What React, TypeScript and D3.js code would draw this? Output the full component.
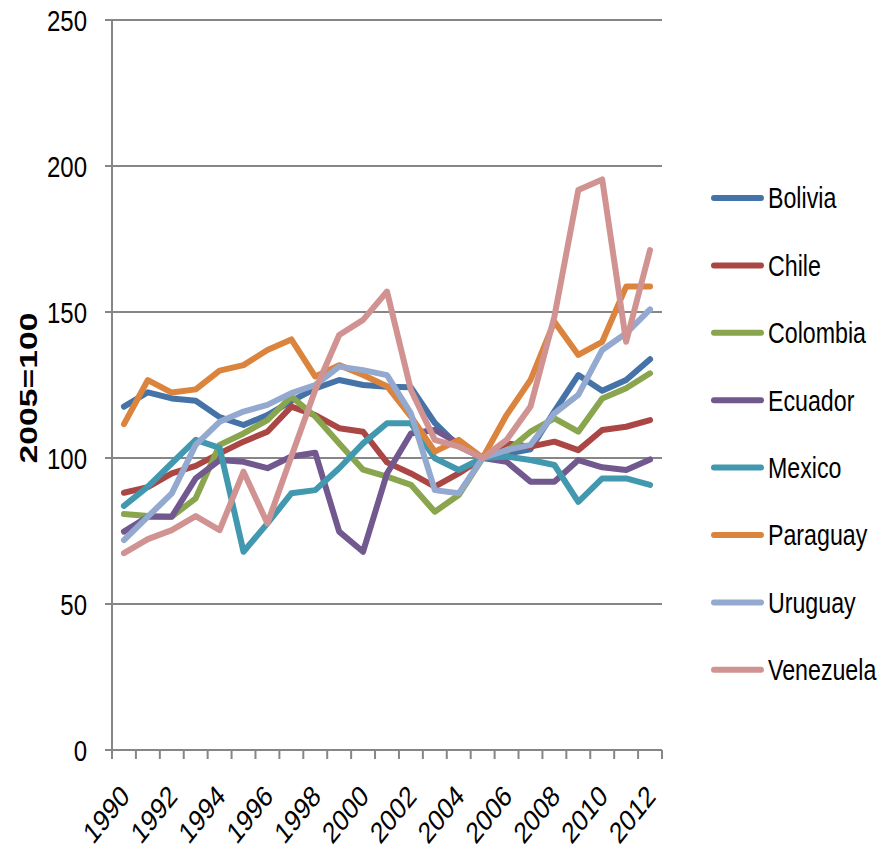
import * as d3 from "d3";

const years = d3.range(1990, 2013).map(String);
const yTicks = [0, 50, 100, 150, 200, 250];

const bolivia = [117.6, 122.5, 120.4, 119.6, 114, 111.3, 114.7, 119.5, 123.8, 126.7, 125, 124.4, 124.2, 112, 104, 100, 101.5, 103, 116, 128.4, 123, 126.7, 133.8];
const chile = [88.1, 90, 94.7, 97.3, 101.6, 105.6, 109, 117.6, 114.7, 110.2, 109, 98.5, 94.7, 90.2, 94.7, 100, 105, 103.9, 105.6, 102.7, 109.6, 110.7, 113];
const colombia = [80.8, 80.1, 79.9, 86.2, 104.5, 108.4, 113, 121, 114.2, 105, 96, 93.6, 90.8, 81.6, 87.3, 100, 102.2, 109, 113.6, 109, 120.4, 123.9, 129];
const ecuador = [74.8, 79.9, 79.9, 93, 99.3, 98.7, 96.5, 100.5, 101.8, 74.8, 67.9, 94.7, 108.4, 109.6, 105, 100, 98.7, 91.9, 91.9, 99.3, 96.8, 95.9, 99.5];
const mexico = [83.6, 90.2, 98.2, 106.2, 103.5, 67.9, 77.6, 87.9, 89, 96.5, 105, 111.9, 111.9, 99.9, 95.9, 100, 100.5, 99.3, 97.6, 85, 93, 93, 90.8];
const paraguay = [111.6, 126.7, 122.4, 123.5, 129.9, 131.8, 137, 140.6, 127.9, 131.8, 128.4, 124.6, 114.2, 102.2, 106.2, 100, 114.7, 126.7, 146.7, 135.3, 139.8, 158.7, 158.7];
const uruguay = [71.9, 79.9, 87.9, 104.5, 112.4, 115.9, 118.2, 122.2, 125, 131.3, 130.1, 128.4, 115.3, 89, 87.9, 100, 102.7, 104.5, 115.3, 121.6, 137, 142.7, 150.9];
const venezuela = [67.4, 72.2, 75.3, 80.1, 75.3, 95.3, 77.6, 100.5, 123.3, 142.1, 147.3, 157, 123.3, 106.2, 103.9, 100, 106.2, 117.6, 148.4, 191.8, 195.4, 139.8, 171.2];

const series = [
  { name: "Bolivia", values: bolivia, color: "#4572A7" },
  { name: "Chile", values: chile, color: "#AA4643" },
  { name: "Colombia", values: colombia, color: "#89A54E" },
  { name: "Ecuador", values: ecuador, color: "#71588F" },
  { name: "Mexico", values: mexico, color: "#4198AF" },
  { name: "Paraguay", values: paraguay, color: "#DB843D" },
  { name: "Uruguay", values: uruguay, color: "#93A9CF" },
  { name: "Venezuela", values: venezuela, color: "#D19392" },
];

// the reference text looks horizontally squeezed, so narrow it with a scale
const font = "'Liberation Sans', Arial, sans-serif";
const squeeze = 0.8;

export default function App() {
  const width = 892;
  const height = 852;
  const margin = { top: 20, right: 230, bottom: 102, left: 112 };

  const x = d3
    .scaleBand<string>()
    .domain(years)
    .range([margin.left, width - margin.right]);
  const cx = (d: string) => (x(d) ?? 0) + x.bandwidth() / 2;

  const y = d3
    .scaleLinear()
    .domain([0, 250])
    .range([height - margin.bottom, margin.top]);

  const line = d3
    .line<number>()
    .x((_, i) => cx(years[i]))
    .y((d) => y(d));

  const boundaries = [...years.map((d) => x(d) ?? 0), x.range()[1]];
  const grid = "#868686";

  return (
    <svg
      width={width}
      height={height}
      style={{ position: "absolute", left: 0, top: 0, background: "#fff" }}
    >
      {/* gridlines + y ticks */}
      {yTicks.map((t) => (
        <g key={t}>
          <line x1={margin.left - 7} x2={x.range()[1]} y1={y(t)} y2={y(t)} stroke={grid} strokeWidth={2} />
          <text
            transform={`translate(87,${y(t)}) scale(${squeeze},1)`}
            dy="0.36em"
            textAnchor="end"
            fontFamily={font}
            fontSize={30}
            fill="#000"
          >
            {t}
          </text>
        </g>
      ))}

      {/* y axis line */}
      <line x1={margin.left} x2={margin.left} y1={y(250)} y2={y(0) + 9} stroke={grid} strokeWidth={2} />

      {/* x ticks between categories */}
      {boundaries.slice(1).map((b, i) => (
        <line key={i} x1={b} x2={b} y1={y(0)} y2={y(0) + 9} stroke={grid} strokeWidth={2} />
      ))}

      {/* x labels */}
      {years
        .filter((_, i) => i % 2 === 0)
        .map((d) => (
          <text
            key={d}
            transform={`translate(${cx(d) + 7},${y(0) + 48}) scale(${squeeze},1) rotate(-45)`}
            textAnchor="end"
            fontFamily={font}
            fontSize={30}
            fill="#000"
          >
            {d}
          </text>
        ))}

      {/* y axis title */}
      <text
        transform={`translate(37,388) rotate(-90)`}
        textAnchor="middle"
        fontFamily={font}
        fontWeight="bold"
        fontSize={23}
        textLength={151}
        lengthAdjust="spacingAndGlyphs"
        fill="#000"
      >
        2005=100
      </text>

      {/* series */}
      {series.map((s) => (
        <path
          key={s.name}
          d={line(s.values) ?? ""}
          fill="none"
          stroke={s.color}
          strokeWidth={6}
          strokeLinejoin="round"
          strokeLinecap="round"
        />
      ))}

      {/* legend */}
      {series.map((s, i) => {
        const ly = 198 + i * 67.4;
        return (
          <g key={s.name}>
            <line x1={714} x2={761} y1={ly} y2={ly} stroke={s.color} strokeWidth={6} strokeLinecap="round" />
            <text
              transform={`translate(768,${ly}) scale(${squeeze},1)`}
              dy="0.36em"
              fontFamily={font}
              fontSize={29}
              fill="#000"
            >
              {s.name}
            </text>
          </g>
        );
      })}
    </svg>
  );
}
